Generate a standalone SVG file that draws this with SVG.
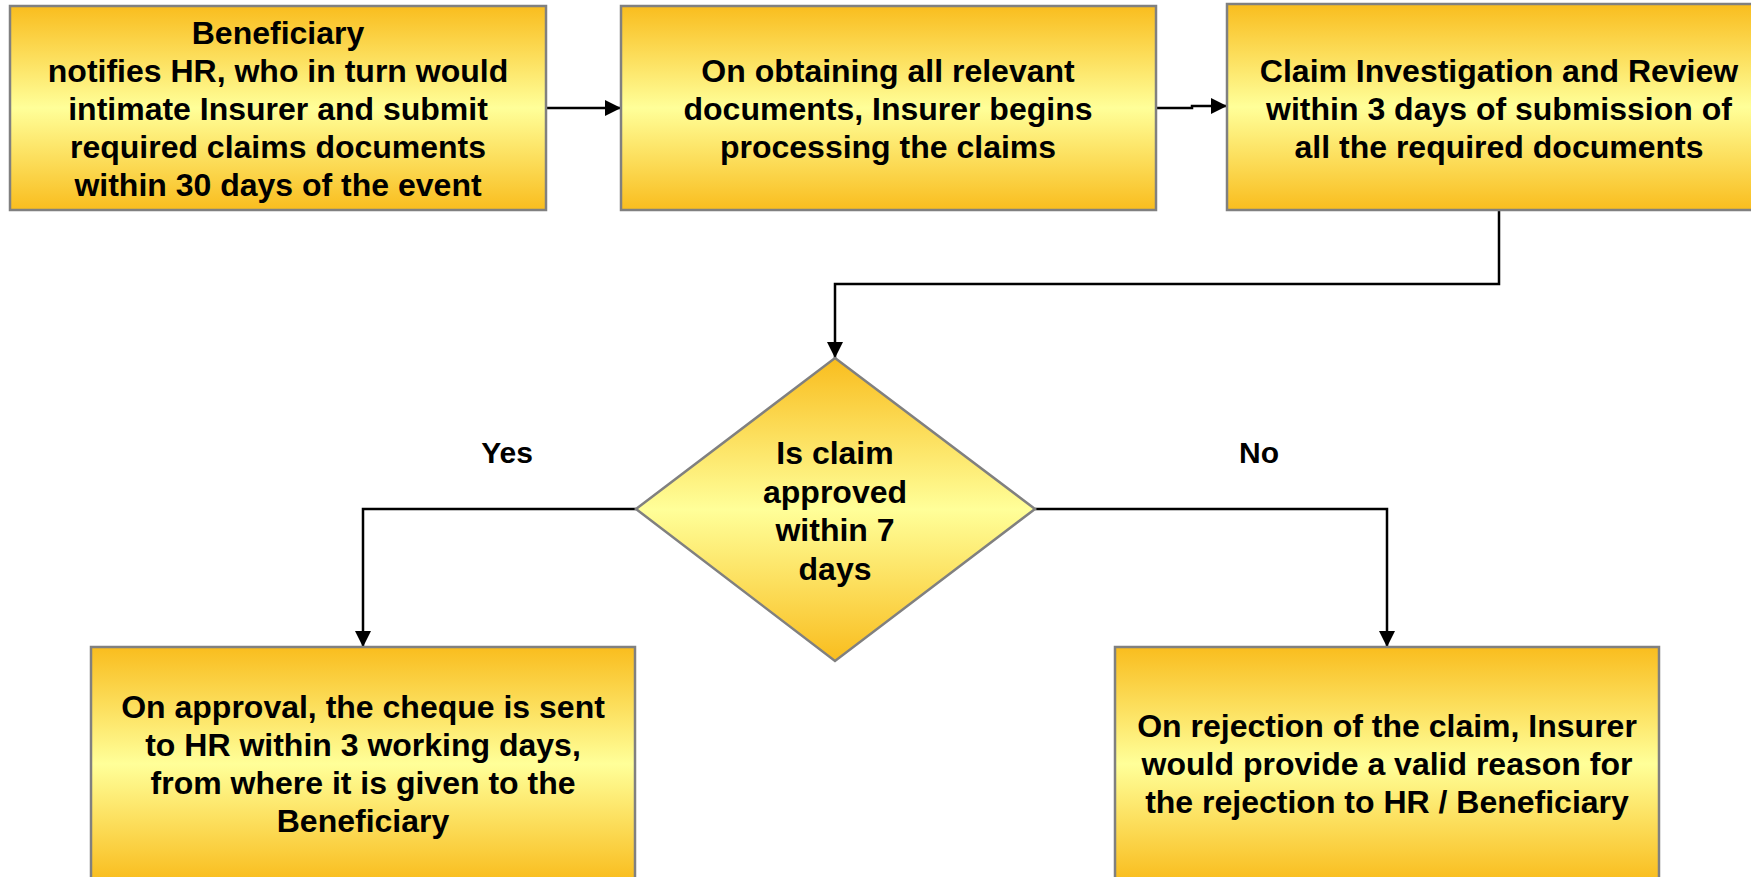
<svg xmlns="http://www.w3.org/2000/svg" width="1751" height="877" viewBox="0 0 1751 877">
  <defs>
    <!-- orange-to-pale-yellow band used by every shape -->
    <linearGradient id="fillBand" x1="0" y1="0" x2="0" y2="1">
      <stop offset="0" stop-color="#F9BD1E"/>
      <stop offset="0.5" stop-color="#FFFF99"/>
      <stop offset="1" stop-color="#F9BD1E"/>
    </linearGradient>
    <marker id="arrow" markerUnits="userSpaceOnUse" markerWidth="16" markerHeight="16" refX="16" refY="8" orient="auto">
      <path d="M0,0 L16,8 L0,16 Z" fill="#000"/>
    </marker>
  </defs>
  <style>
    .box { fill: url(#fillBand); stroke: #808080; stroke-width: 2.5; }
    .lbl { font-family: "Liberation Sans", Arial, sans-serif; font-weight: bold; font-size: 32px; fill: #000; text-anchor: middle; }
    .branch { font-family: "Liberation Sans", Arial, sans-serif; font-weight: bold; font-size: 30px; fill: #000; text-anchor: middle; }
    .wire { fill: none; stroke: #000; stroke-width: 2.5; marker-end: url(#arrow); }
  </style>
  <rect width="1751" height="877" fill="#fff"/>

  <g id="connectors">
    <path class="wire" d="M546,108 H621"/>
    <path class="wire" d="M1156,108 H1192 V106 H1227"/>
    <path class="wire" d="M1499,210 V284 H835 V358"/>
    <path class="wire" d="M636,509 H363 V647"/>
    <path class="wire" d="M1035,509 H1387 V647"/>
  </g>

  <!-- tspans are written without whitespace between them so centred lines are not shifted -->
  <g id="notify">
    <rect class="box" x="10" y="6" width="536" height="204"/>
    <text class="lbl"><tspan x="278" y="44">Beneficiary</tspan><tspan x="278" y="82">notifies HR, who in turn would</tspan><tspan x="278" y="120">intimate Insurer and submit</tspan><tspan x="278" y="158">required claims documents</tspan><tspan x="278" y="196">within 30 days of the event</tspan></text>
  </g>

  <g id="processing">
    <rect class="box" x="621" y="6" width="535" height="204"/>
    <text class="lbl"><tspan x="888" y="82">On obtaining all relevant</tspan><tspan x="888" y="120">documents, Insurer begins</tspan><tspan x="888" y="158">processing the claims</tspan></text>
  </g>

  <g id="investigation">
    <rect class="box" x="1227" y="4" width="545" height="206"/>
    <text class="lbl"><tspan x="1499" y="82">Claim Investigation and Review</tspan><tspan x="1499" y="120">within 3 days of submission of</tspan><tspan x="1499" y="158">all the required documents</tspan></text>
  </g>

  <g id="decision">
    <polygon class="box" points="835,358 1035,509 835,661 636,509"/>
    <text class="lbl"><tspan x="835" y="464">Is claim</tspan><tspan x="835" y="503">approved</tspan><tspan x="835" y="541">within 7</tspan><tspan x="835" y="580">days</tspan></text>
  </g>

  <g id="label-yes">
    <text class="branch" x="507" y="463">Yes</text>
  </g>
  <g id="label-no">
    <text class="branch" x="1259" y="463">No</text>
  </g>

  <g id="approval">
    <rect class="box" x="91" y="647" width="544" height="234"/>
    <text class="lbl"><tspan x="363" y="718">On approval, the cheque is sent</tspan><tspan x="363" y="756">to HR within 3 working days,</tspan><tspan x="363" y="794">from where it is given to the</tspan><tspan x="363" y="832">Beneficiary</tspan></text>
  </g>

  <g id="rejection">
    <rect class="box" x="1115" y="647" width="544" height="234"/>
    <text class="lbl"><tspan x="1387" y="737">On rejection of the claim, Insurer</tspan><tspan x="1387" y="775">would provide a valid reason for</tspan><tspan x="1387" y="813">the rejection to HR / Beneficiary</tspan></text>
  </g>
</svg>
